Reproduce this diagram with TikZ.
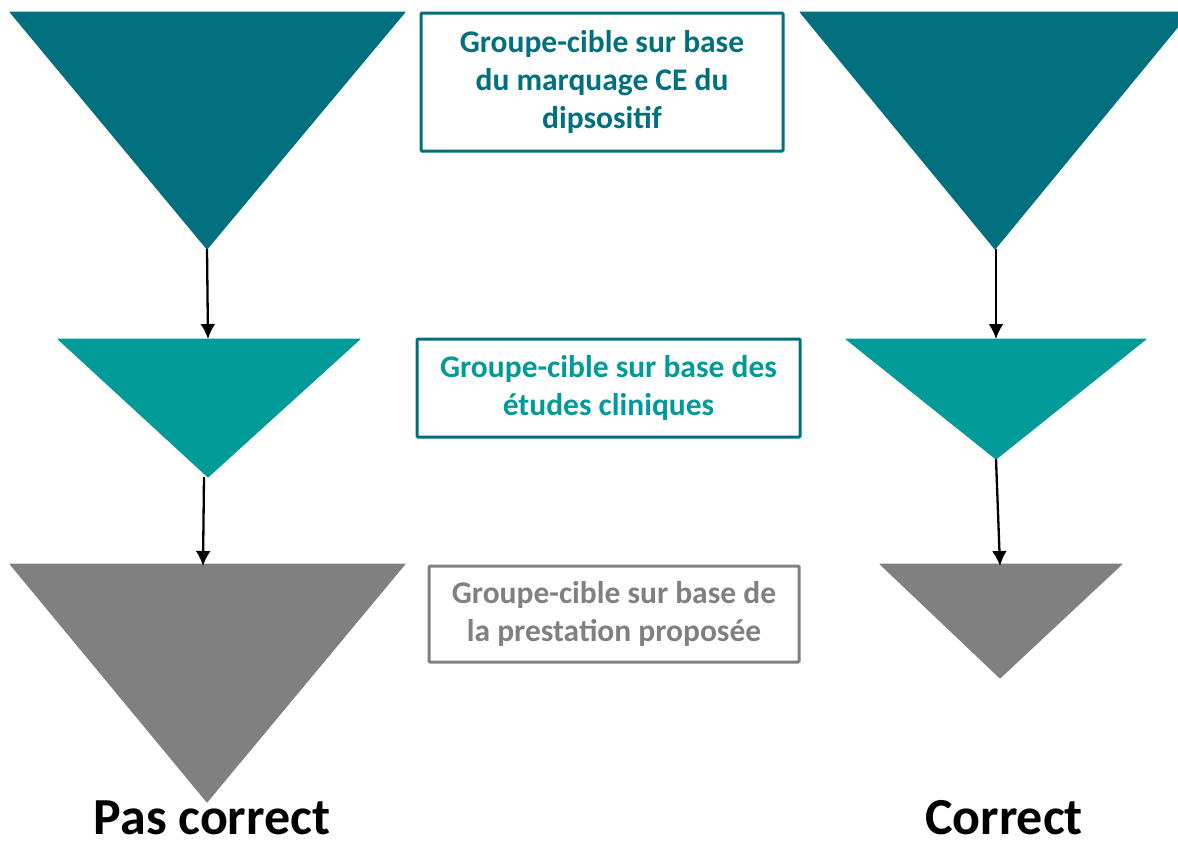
\documentclass[tikz,border=0pt]{standalone}
\usepackage{fontspec}
\setmainfont{Carlito}
\usetikzlibrary{arrows.meta}
\definecolor{tealdark}{HTML}{00707F}
\definecolor{tealmid}{HTML}{009A99}
\definecolor{greymid}{HTML}{808080}
\tikzset{
  tri/.style={line width=1pt, line join=round, draw=#1, fill=#1},
  flow/.style={line width=2.3pt, -{Latex[length=15pt,width=15pt]}},
  labelbox/.style={draw=#1, line width=3pt, rounded corners=1pt, align=center,
    font=\bfseries\fontsize{31.5}{38}\selectfont, inner sep=0pt},
  verdict/.style={font=\bfseries\fontsize{52}{60}\selectfont, text=black,
    inner sep=0pt, text depth=0pt}
}
\begin{document}
\begin{tikzpicture}[x=1pt, y=-1pt]
\useasboundingbox (0,0) rectangle (1178,847);

% left column: triangles of widths shrinking wrongly
\draw[tri=tealdark] (10,12) -- (405,12) -- (207,249) -- cycle;
\coordinate (L1tip) at (207,249);
\draw[tri=tealmid] (58,339) -- (360,339) -- (208,477) -- cycle;
\coordinate (L2top) at (208,339);
\coordinate (L2tip) at (204,477);
\draw[tri=greymid] (10,564) -- (405,564) -- (207,802) -- cycle;
\coordinate (L3top) at (203,566);

% right column: triangles narrowing step by step
\draw[tri=tealdark] (800,12) -- (1190,12) -- (995,249) -- cycle;
\coordinate (R1tip) at (996,249);
\draw[tri=tealmid] (846,339) -- (1146,339) -- (996,459) -- cycle;
\coordinate (R2top) at (996,339);
\coordinate (R2tip) at (996,459);
\draw[tri=greymid] (880,564) -- (1122,564) -- (1000,678) -- cycle;
\coordinate (R3top) at (1000,566);

% connectors
\draw[flow] (L1tip) -- (L2top);
\draw[flow] (L2tip) -- (L3top);
\draw[flow] (R1tip) -- (R2top);
\draw[flow] (R2tip) -- (R3top);

% middle captions
\node[labelbox=tealdark, text=tealdark, minimum width=362pt, minimum height=138pt]
  (cap1) at (602,82) {Groupe-cible sur base\\du marquage CE du\\dipsositif};
\node[labelbox=tealdark, text=tealmid, minimum width=383pt, minimum height=98pt]
  (cap2) at (608.5,388) {Groupe-cible sur base des\\études cliniques};
\node[labelbox=greymid, text=greymid, minimum width=370pt, minimum height=96pt]
  (cap3) at (614,614) {Groupe-cible sur base de\\la prestation proposée};

% verdicts
\node[verdict, anchor=base] (wrong) at (212,834) {Pas correct};
\node[verdict, anchor=base] (right) at (1004,834) {Correct};
\end{tikzpicture}
\end{document}
